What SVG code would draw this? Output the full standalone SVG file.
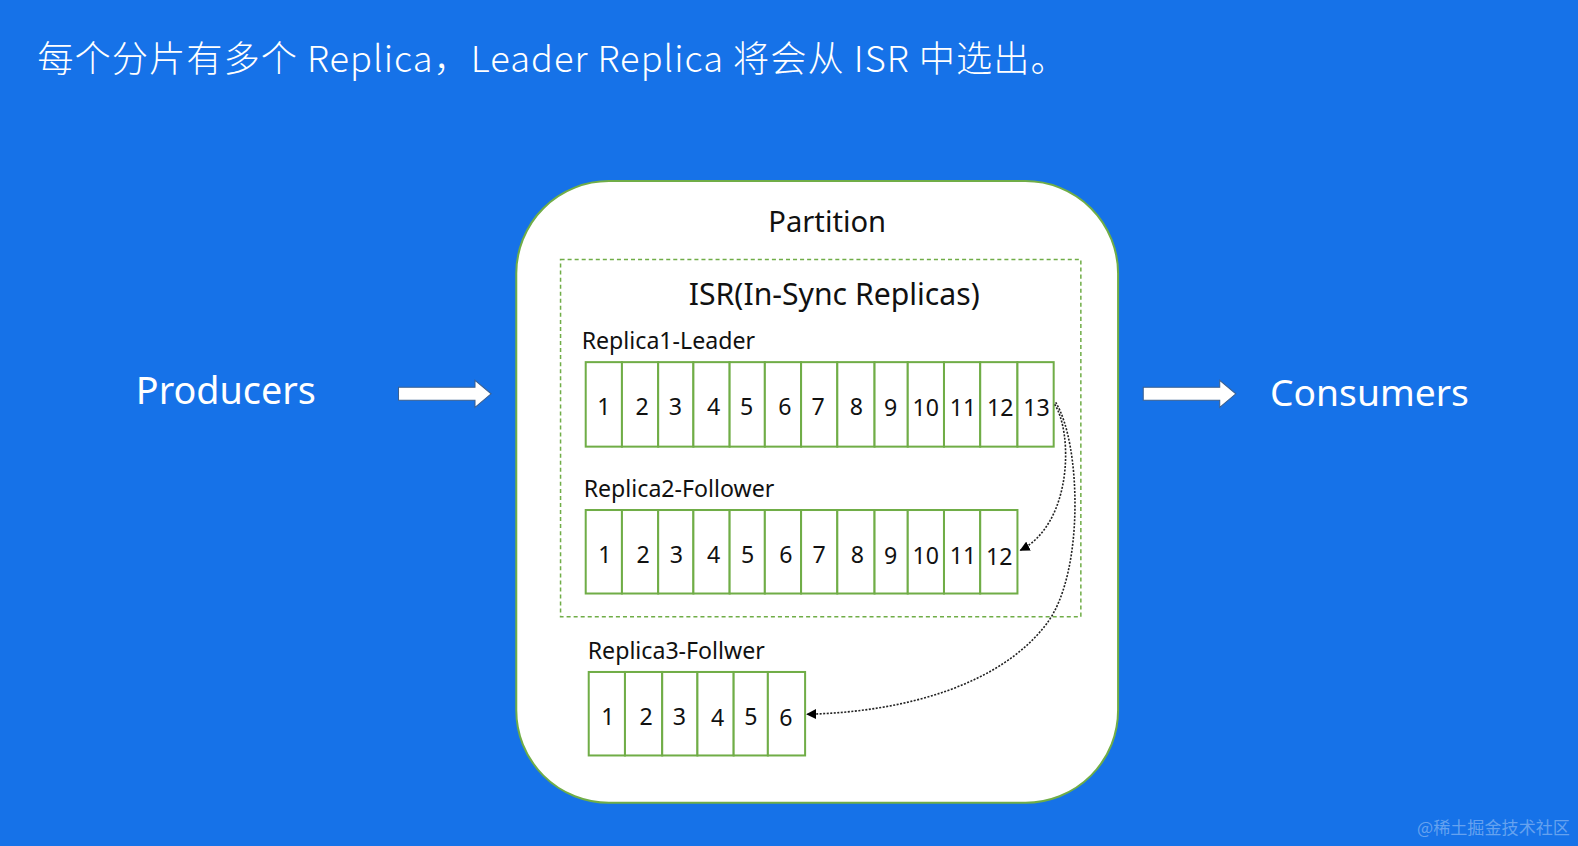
<svg xmlns="http://www.w3.org/2000/svg" width="1578" height="846" viewBox="0 0 1578 846">
<style>
.t{font-family:"Noto Sans","Noto Sans CJK SC",sans-serif;fill:#111}
.w{font-family:"Noto Sans","Noto Sans CJK SC",sans-serif;fill:#fff}
.cell{fill:#fff;stroke:#70ad47;stroke-width:2}
.n{font-family:"Noto Sans",sans-serif;font-size:23px;fill:#111;text-anchor:middle}
.con{fill:none;stroke:#222;stroke-width:1.6;stroke-dasharray:2 1.5}
.blk{fill:#fff;stroke:#3a5f8f;stroke-width:1}
</style>
<defs>
<marker id="ah" markerWidth="10" markerHeight="10" refX="9" refY="5" orient="auto" markerUnits="userSpaceOnUse">
<path d="M0,0 L10,5 L0,10 z" fill="#000"/>
</marker>
</defs>
<rect width="1578" height="846" fill="#1672e8"/>
<g transform="scale(1.00638 1.00595)">
<text class="w" x="37" y="72" font-size="36" textLength="1023" lengthAdjust="spacing" style="font-family:'Noto Sans CJK SC',sans-serif;font-weight:300">每个分片有多个 Replica，Leader Replica 将会从 ISR 中选出。</text>
<g id="producers"><text class="w" x="135" y="402" font-size="37.5">Producers</text></g>
<g id="consumers"><text class="w" x="1262" y="404" font-size="37">Consumers</text></g>
<g id="arrow-in"><path class="blk" d="M396,385 L472,385 L472,378 L488,391.5 L472,405 L472,398 L396,398 z"/></g>
<g id="arrow-out"><path class="blk" d="M1136,385 L1212,385 L1212,378 L1228,391.5 L1212,405 L1212,398 L1136,398 z"/></g>
<g id="partition">
<rect x="513" y="180" width="598" height="618" rx="92" ry="92" fill="#fff" stroke="#70ad47" stroke-width="2"/>
<text class="t" x="822" y="231" font-size="29" text-anchor="middle">Partition</text>
</g>
<g id="isr">
<rect x="557" y="258" width="517" height="355" fill="none" stroke="#70ad47" stroke-width="1.5" stroke-dasharray="4 3"/>
<text class="t" x="829" y="303" font-size="30" text-anchor="middle">ISR(In-Sync Replicas)</text>
</g>
<g id="replica1">
<text class="t" x="578" y="347" font-size="23">Replica1-Leader</text>
<rect class="cell" x="582" y="360" width="36" height="84"/><text class="n" x="600" y="413">1</text>
<rect class="cell" x="618" y="360" width="36" height="84"/><text class="n" x="638" y="413">2</text>
<rect class="cell" x="654" y="360" width="35" height="84"/><text class="n" x="671" y="413">3</text>
<rect class="cell" x="689" y="360" width="36" height="84"/><text class="n" x="709" y="413">4</text>
<rect class="cell" x="725" y="360" width="35" height="84"/><text class="n" x="742" y="413">5</text>
<rect class="cell" x="760" y="360" width="36" height="84"/><text class="n" x="780" y="413">6</text>
<rect class="cell" x="796" y="360" width="36" height="84"/><text class="n" x="813" y="413">7</text>
<rect class="cell" x="832" y="360" width="37" height="84"/><text class="n" x="851" y="413">8</text>
<rect class="cell" x="869" y="360" width="33" height="84"/><text class="n" x="885" y="414">9</text>
<rect class="cell" x="902" y="360" width="36" height="84"/><text class="n" x="920" y="414">10</text>
<rect class="cell" x="938" y="360" width="36" height="84"/><text class="n" x="957" y="414">11</text>
<rect class="cell" x="974" y="360" width="37" height="84"/><text class="n" x="994" y="414">12</text>
<rect class="cell" x="1011" y="360" width="36" height="84"/><text class="n" x="1030" y="414">13</text>
</g>
<g id="replica2">
<text class="t" x="580" y="494" font-size="23">Replica2-Follower</text>
<rect class="cell" x="582" y="507" width="36" height="83"/><text class="n" x="601" y="560">1</text>
<rect class="cell" x="618" y="507" width="36" height="83"/><text class="n" x="639" y="560">2</text>
<rect class="cell" x="654" y="507" width="35" height="83"/><text class="n" x="672" y="560">3</text>
<rect class="cell" x="689" y="507" width="36" height="83"/><text class="n" x="709" y="560">4</text>
<rect class="cell" x="725" y="507" width="35" height="83"/><text class="n" x="743" y="560">5</text>
<rect class="cell" x="760" y="507" width="36" height="83"/><text class="n" x="781" y="560">6</text>
<rect class="cell" x="796" y="507" width="36" height="83"/><text class="n" x="814" y="560">7</text>
<rect class="cell" x="832" y="507" width="37" height="83"/><text class="n" x="852" y="560">8</text>
<rect class="cell" x="869" y="507" width="33" height="83"/><text class="n" x="885" y="561">9</text>
<rect class="cell" x="902" y="507" width="36" height="83"/><text class="n" x="920" y="561">10</text>
<rect class="cell" x="938" y="507" width="36" height="83"/><text class="n" x="957" y="561">11</text>
<rect class="cell" x="974" y="507" width="37" height="83"/><text class="n" x="993" y="562">12</text>
</g>
<g id="replica3">
<text class="t" x="584" y="655" font-size="23">Replica3-Follwer</text>
<rect class="cell" x="585" y="668" width="36" height="83"/><text class="n" x="604" y="721">1</text>
<rect class="cell" x="621" y="668" width="37" height="83"/><text class="n" x="642" y="721">2</text>
<rect class="cell" x="658" y="668" width="35" height="83"/><text class="n" x="675" y="721">3</text>
<rect class="cell" x="693" y="668" width="36" height="83"/><text class="n" x="713" y="722">4</text>
<rect class="cell" x="729" y="668" width="34" height="83"/><text class="n" x="746" y="721">5</text>
<rect class="cell" x="763" y="668" width="37" height="83"/><text class="n" x="781" y="722">6</text>
</g>
<g id="connectors">
<path class="con" marker-end="url(#ah)" d="M1048,402 C1066,430 1066,520 1014,547"/>
<path class="con" marker-end="url(#ah)" d="M1049,400 C1074,440 1078,570 1040,620 C995,680 900,708 802,710"/>
</g>
<text x="1560" y="829" font-size="17" text-anchor="end" fill="#fff" fill-opacity="0.35" style="font-family:'Noto Sans CJK SC',sans-serif">@稀土掘金技术社区</text>
</g>
</svg>
